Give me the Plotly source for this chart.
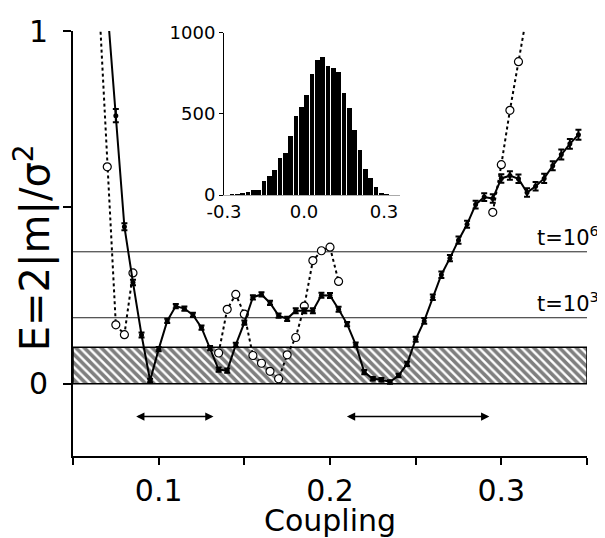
import plotly.graph_objects as go

# ---------------- data ----------------
# solid curve (with error bars)
coupling_solid = [0.070, 0.075, 0.080, 0.085, 0.090, 0.095, 0.100, 0.105, 0.110, 0.115,
                  0.120, 0.125, 0.130, 0.135, 0.140, 0.145, 0.150, 0.155, 0.160, 0.165,
                  0.170, 0.175, 0.180, 0.185, 0.190, 0.195, 0.200, 0.205, 0.210, 0.215,
                  0.220, 0.225, 0.230, 0.235, 0.240, 0.245, 0.250, 0.255, 0.260, 0.265,
                  0.270, 0.275, 0.280, 0.285, 0.290, 0.295, 0.300, 0.305, 0.310, 0.315,
                  0.320, 0.325, 0.330, 0.335, 0.340, 0.345]
E_solid = [1.07, 0.760, 0.445, 0.287, 0.138, 0.009, 0.098, 0.178, 0.220, 0.213,
           0.195, 0.159, 0.101, 0.040, 0.037, 0.110, 0.173, 0.245, 0.253, 0.229,
           0.193, 0.184, 0.207, 0.207, 0.207, 0.251, 0.250, 0.211, 0.169, 0.111,
           0.033, 0.014, 0.011, 0.005, 0.023, 0.056, 0.126, 0.178, 0.245, 0.309,
           0.356, 0.407, 0.452, 0.508, 0.529, 0.525, 0.582, 0.590, 0.581, 0.542,
           0.560, 0.582, 0.618, 0.650, 0.680, 0.706]
E_solid_err = [0.020, 0.019, 0.010, 0.008, 0.007, 0.005, 0.006, 0.006, 0.006, 0.006,
               0.006, 0.006, 0.006, 0.006, 0.006, 0.006, 0.006, 0.006, 0.006, 0.006,
               0.006, 0.006, 0.007, 0.007, 0.007, 0.007, 0.007, 0.007, 0.006, 0.006,
               0.006, 0.005, 0.005, 0.005, 0.005, 0.006, 0.007, 0.008, 0.008, 0.009,
               0.009, 0.010, 0.010, 0.011, 0.011, 0.012, 0.012, 0.012, 0.012, 0.012,
               0.012, 0.013, 0.013, 0.014, 0.014, 0.014]

# dotted curve (open circles); None separates the branches
coupling_dot = [0.065, 0.070, 0.075, 0.080, 0.085, None,
                0.135, 0.140, 0.145, 0.150, 0.155, 0.160, 0.165, 0.170, 0.175, 0.180,
                0.185, 0.190, 0.195, 0.200, 0.205, None,
                0.295, 0.300, 0.305, 0.310, 0.315]
E_dot = [1.10, 0.615, 0.167, 0.139, 0.314, None,
         0.087, 0.211, 0.253, 0.197, 0.080, 0.058, 0.035, 0.014, 0.082, 0.131,
         0.220, 0.349, 0.377, 0.387, 0.290, None,
         0.486, 0.621, 0.775, 0.913, 1.05]

# reference levels
band_top = 0.103
level_t6 = 0.374
level_t3 = 0.187
level_labels = ["t=10<sup>6</sup>", "t=10<sup>3</sup>"]
level_label_x = 0.3195

# arrows (coupling ranges)
arrow_ranges = [(0.086, 0.132), (0.209, 0.293)]
arrow_level = -0.093

# inset histogram
hist_centers = [-0.27, -0.25, -0.23, -0.21, -0.19, -0.17, -0.15, -0.13, -0.11, -0.09,
                -0.07, -0.05, -0.03, -0.01, 0.01, 0.03, 0.05, 0.07, 0.09, 0.11,
                0.13, 0.15, 0.17, 0.19, 0.21, 0.23, 0.25, 0.27, 0.29, 0.31]
hist_counts = [6, 8, 14, 22, 37, 37, 87, 122, 158, 231,
               260, 365, 487, 542, 621, 750, 832, 852, 799, 785,
               759, 629, 538, 402, 280, 162, 110, 53, 16, 6]

# axes
x_range = [0.05, 0.35]
y_range = [-0.205, 1.0]
x_tickvals = [0.05, 0.10, 0.15, 0.20, 0.25, 0.30, 0.35]
x_ticktext = ["", "0.1", "", "0.2", "", "0.3", ""]
y_tickvals = [0, 0.5, 1]
y_ticktext = ["0", "", "1"]
inset_x_tickvals = [-0.3, 0.0, 0.3]
inset_x_ticktext = ["-0.3", "0.0", "0.3"]
inset_y_tickvals = [0, 500, 1000]
inset_y_ticktext = ["0", "500", "1000"]

FONT = "DejaVu Sans"

fig = go.Figure()

# hatched band
fig.add_trace(go.Scatter(
    x=[x_range[0], x_range[1], x_range[1], x_range[0], x_range[0]],
    y=[0, 0, band_top, band_top, 0],
    mode="lines", fill="toself", fillcolor="white",
    fillpattern=dict(shape="\\", size=6, solidity=0.6, fgcolor="black", bgcolor="white"),
    line=dict(color="black", width=1.5),
    hoverinfo="skip", showlegend=False))

# horizontal level lines
for lv in (level_t6, level_t3):
    fig.add_shape(type="line", xref="x", yref="y", x0=x_range[0], x1=x_range[1],
                  y0=lv, y1=lv, line=dict(color="#222", width=1), layer="below")

# dotted curve
fig.add_trace(go.Scatter(
    x=coupling_dot, y=E_dot, mode="lines+markers",
    line=dict(color="black", width=2, dash="3px,3px"),
    marker=dict(symbol="circle", size=8, color="white", line=dict(color="black", width=1.2)),
    showlegend=False))

# solid curve
fig.add_trace(go.Scatter(
    x=coupling_solid, y=E_solid, mode="lines+markers",
    line=dict(color="black", width=2),
    marker=dict(symbol="circle", size=5, color="black"),
    error_y=dict(type="data", array=E_solid_err, color="black", thickness=2, width=3),
    showlegend=False))

# inset histogram
fig.add_trace(go.Bar(
    x=hist_centers, y=hist_counts, xaxis="x2", yaxis="y2",
    width=0.0175, marker=dict(color="black", line=dict(width=0)),
    showlegend=False))

# arrows
for a0, a1 in arrow_ranges:
    fig.add_annotation(x=a1, y=arrow_level, ax=a0, ay=arrow_level, xref="x", yref="y",
                       axref="x", ayref="y", text="", showarrow=True,
                       arrowhead=2, arrowside="end+start", arrowsize=1.1,
                       arrowwidth=1.5, arrowcolor="black")

# level labels
for lv, lab in zip((level_t6, level_t3), level_labels):
    fig.add_annotation(x=level_label_x, xref="x", y=lv, yref="y", text=lab,
                       showarrow=False, xanchor="left", yanchor="bottom",
                       font=dict(family=FONT, size=21, color="black"))

# y-axis title
fig.add_annotation(x=-0.077, xref="paper", y=0.49, yref="paper",
                   text="E=2|m|/σ<sup>2</sup>", textangle=-90, showarrow=False,
                   xanchor="center", yanchor="middle",
                   font=dict(family=FONT, size=40, color="black"))

fig.update_layout(
    width=597, height=530,
    margin=dict(l=65, r=18, t=19, b=82),
    paper_bgcolor="white", plot_bgcolor="white",
    font=dict(family=FONT, color="black"),
    bargap=0,
    xaxis=dict(range=x_range, tickvals=x_tickvals, ticktext=x_ticktext,
               ticks="outside", ticklen=7, tickwidth=2, tickcolor="black",
               showline=True, linewidth=2, linecolor="black",
               showgrid=False, zeroline=False, automargin=False,
               tickfont=dict(family=FONT, size=30),
               title=dict(text="Coupling", font=dict(family=FONT, size=30), standoff=4)),
    yaxis=dict(range=y_range, tickvals=y_tickvals, ticktext=y_ticktext,
               ticks="outside", ticklen=8, tickwidth=2, tickcolor="black",
               showline=True, linewidth=2, linecolor="black",
               showgrid=False, zeroline=False, automargin=False,
               ticklabelstandoff=9,
               tickfont=dict(family=FONT, size=30)),
    xaxis2=dict(domain=[0.2938, 0.6362], anchor="y2", range=[-0.3, 0.36],
                tickvals=inset_x_tickvals, ticktext=inset_x_ticktext,
                ticks="", showline=True, linewidth=1, linecolor="#aaa",
                showgrid=False, zeroline=False,
                tickfont=dict(family=FONT, size=18)),
    yaxis2=dict(domain=[0.6138, 0.9963], anchor="x2", range=[0, 1000],
                tickvals=inset_y_tickvals, ticktext=inset_y_ticktext,
                ticks="outside", ticklen=4, tickwidth=1, tickcolor="black",
                showline=True, linewidth=1, linecolor="black",
                showgrid=False, zeroline=False,
                tickfont=dict(family=FONT, size=18)),
)

fig.write_html("out.html")
